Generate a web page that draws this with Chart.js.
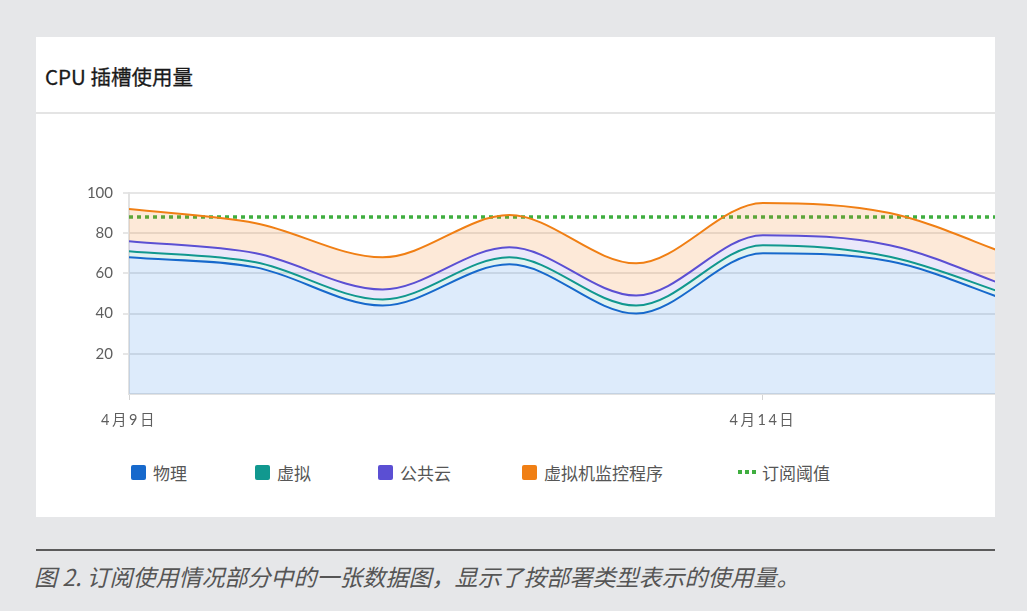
<!DOCTYPE html>
<html>
<head>
<meta charset="utf-8">
<script src="https://cdn.jsdelivr.net/npm/chart.js@4.4.1/dist/chart.umd.min.js"></script>
<style>
  html, body { margin: 0; padding: 0; }
  body { width: 1027px; height: 611px; background: #e6e7e9; position: relative; overflow: hidden;
         font-family: Lato, "Noto Sans CJK SC", "Noto Sans", sans-serif; }
  #card { position: absolute; left: 36px; top: 37px; width: 959px; height: 480px; background: #ffffff; }
  #title { position: absolute; left: 9px; top: 23px; font-size: 20.5px; font-weight: 400; color: #1a1a1a;
           font-family: "Noto Sans CJK SC", sans-serif; line-height: 32px; -webkit-text-stroke: 0.3px #1a1a1a; }
  #divider { position: absolute; left: 0; top: 75px; width: 959px; height: 2px; background: #e4e4e4; }
  #chart { position: absolute; left: 0; top: 77px; }
  #legend { position: absolute; left: 0; top: 423px; width: 959px; height: 24px; }
  .item { position: absolute; top: 0; height: 24px; display: flex; align-items: center; font-size: 17px; color: #565656;
          font-family: "Noto Sans CJK SC", sans-serif; white-space: nowrap; }
  .box { width: 15px; height: 15px; border-radius: 2px; margin-right: 7px; }
  .dots { width: 18px; height: 4px; margin-right: 6px;
          background: repeating-linear-gradient(90deg, #3fae3f 0 4px, transparent 4px 7px); }
  #capline { position: absolute; left: 36px; top: 549px; width: 959px; height: 2px; background: #5b5b5b; }
  #caption { position: absolute; left: 34px; top: 560px; font-size: 23px; font-style: italic; color: #555555;
             font-family: "Noto Sans CJK SC", sans-serif; line-height: 32px; white-space: nowrap; }
</style>
</head>
<body>
<div id="card">
  <div id="title">CPU 插槽使用量</div>
  <div id="divider"></div>
  <canvas id="chart" width="959" height="340"></canvas>
  <div id="legend"></div>
</div>
<div id="capline"></div>
<div id="caption">图 2. 订阅使用情况部分中的一张数据图，显示了按部署类型表示的使用量。</div>
<script>
// ---- data ----
const dayIndex      = [0, 1, 2, 3, 4, 5, 6, 7];
const physical      = [68, 63, 44, 64.5, 40, 70, 66, 45];
const virtualVals   = [3, 2.5, 3, 3.5, 4, 4, 2.3, 3];
const publicCloud   = [5, 4.5, 5, 5, 5, 5, 5.7, 4];
const hypervisor    = [16, 15, 16, 16, 16, 16, 16, 16];
const thresholdVals = [88, 88, 88, 88, 88, 88, 88, 88];
const seriesNames   = ["物理", "虚拟", "公共云", "虚拟机监控程序", "订阅阈值"];
const xTickValues   = [0, 5];
const xTickLabels   = ["4月9日", "4月14日"];
const yTickValues   = [20, 40, 60, 80, 100];

const lineColors = ["#1769cc", "#11988f", "#5b4fd3", "#f07f14", "#3fae3f"];
const fillColors = ["rgba(28,118,226,0.15)", "rgba(0,150,140,0.12)", "rgba(92,78,215,0.13)", "rgba(242,122,22,0.17)"];

const pts = arr => dayIndex.map((d, i) => ({ x: d, y: arr[i] }));
const stackVals = [physical, virtualVals, publicCloud, hypervisor];

const datasets = stackVals.map((vals, i) => ({
  label: seriesNames[i],
  data: pts(vals),
  borderColor: lineColors[i],
  backgroundColor: fillColors[i],
  borderWidth: 2,
  pointRadius: 0,
  cubicInterpolationMode: 'monotone',
  fill: i === 0 ? 'origin' : '-1',
  stack: 'usage'
}));
datasets.push({
  label: seriesNames[4],
  data: pts(thresholdVals),
  borderColor: lineColors[4],
  borderWidth: 3.5,
  borderDash: [4, 4],
  pointRadius: 0,
  tension: 0,
  fill: false,
  stack: 'threshold'
});

new Chart(document.getElementById('chart'), {
  type: 'line',
  data: { datasets },
  options: {
    responsive: false,
    animation: false,
    devicePixelRatio: 1,
    layout: { padding: { top: 79, left: 0, right: 0, bottom: 0 } },
    plugins: { legend: { display: false }, tooltip: { enabled: false } },
    scales: {
      x: {
        type: 'linear',
        min: 0,
        max: 6.83,
        grid: { drawOnChartArea: false, drawTicks: true, tickLength: 6, color: '#d4d4d4', lineWidth: 1 },
        border: { display: true, color: '#e2e2e2', width: 2 },
        afterBuildTicks: s => { s.ticks = xTickValues.map(v => ({ value: v })); },
        afterFit: s => {
          s.height = 60;
          if (!s._spacedLabels) {
            const orig = s.drawLabels;
            s.drawLabels = function (area) {
              const ctx = this.ctx;
              ctx.save();
              ctx.letterSpacing = '2.5px';
              orig.call(this, area);
              ctx.restore();
            };
            s._spacedLabels = true;
          }
        },
        ticks: {
          autoSkip: false, maxRotation: 0, padding: 12,
          color: '#5e5e5e',
          font: { size: 14.5, family: 'Lato, "Noto Sans CJK SC", sans-serif' },
          callback: v => xTickLabels[xTickValues.indexOf(v)]
        }
      },
      y: {
        stacked: true,
        min: 0,
        max: 100,
        afterBuildTicks: s => { s.ticks = yTickValues.map(v => ({ value: v })); },
        afterFit: s => { s.width = 93; },
        grid: { color: '#e6e6e6', lineWidth: 2, tickLength: 6, drawTicks: true },
        border: { display: true, color: '#e2e2e2', width: 2 },
        ticks: {
          padding: 10,
          color: '#5e5e5e',
          font: { size: 15, family: 'Lato, "Noto Sans CJK SC", sans-serif' }
        }
      }
    }
  }
});

// ---- legend (HTML) ----
const legendLefts = [95, 219, 342, 486, 702];
const legend = document.getElementById('legend');
seriesNames.forEach((name, i) => {
  const it = document.createElement('div');
  it.className = 'item';
  it.style.left = legendLefts[i] + 'px';
  const sym = document.createElement('div');
  if (i < 4) { sym.className = 'box'; sym.style.background = lineColors[i]; }
  else { sym.className = 'dots'; }
  it.appendChild(sym);
  const t = document.createElement('span');
  t.textContent = name;
  it.appendChild(t);
  legend.appendChild(it);
});
</script>
</body>
</html>
